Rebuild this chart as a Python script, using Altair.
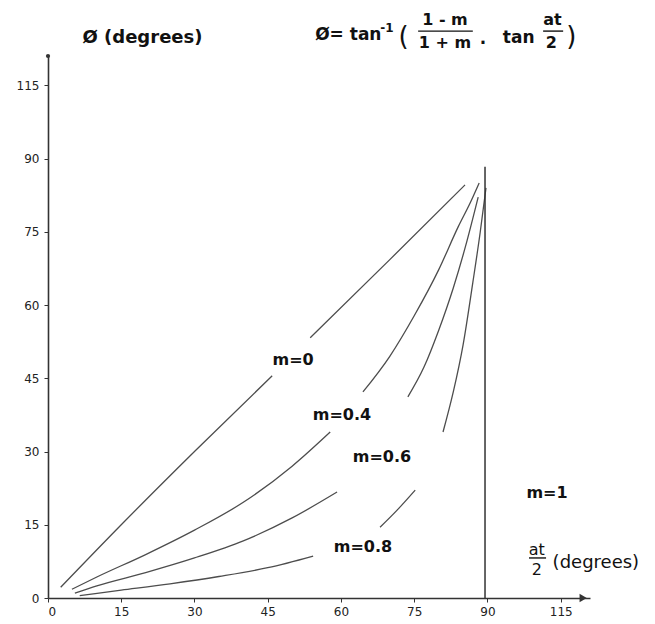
import altair as alt
import pandas as pd

# ---------------- data ----------------
# axis ticks (the last tick is printed as "115")
tick_values = [0, 15, 30, 45, 60, 75, 90, 105]
axis_max = [111]

# curves: phi (degrees) against at/2 (degrees); gaps kept where the drawing has them
m0_a_x = [2.6, 15, 30, 45.9]
m0_a_y = [2.2, 15.0, 30.0, 45.5]
m0_b_x = [53.7, 70, 85.4]
m0_b_y = [53.3, 69.3, 84.6]

m04_a_x = [4.9, 10, 20, 30, 40, 50, 57.8]
m04_a_y = [1.8, 4.3, 8.9, 13.9, 19.6, 27.0, 34.0]
m04_b_x = [64.5, 70, 75, 80, 84, 86.5, 88.3]
m04_b_y = [42.2, 49.5, 57.8, 67.2, 76.0, 81.0, 85.0]

m06_a_x = [5.5, 10, 20, 30, 40, 50, 59.2]
m06_a_y = [1.0, 2.5, 5.2, 8.2, 11.7, 16.4, 21.7]
m06_b_x = [73.7, 77, 80, 83, 85.5, 88.1]
m06_b_y = [41.2, 47.3, 54.8, 63.5, 72.0, 82.1]

m08_a_x = [6.5, 15, 25, 35, 45, 54.3]
m08_a_y = [0.5, 1.6, 2.9, 4.4, 6.2, 8.6]
m08_b_x = [68, 71.5, 75.2]
m08_b_y = [14.5, 18.0, 22.1]
m08_c_x = [80.9, 83, 85, 87, 88.5, 89.7]
m08_c_y = [34.0, 42.2, 51.8, 64.6, 74.8, 84.0]

# m = 1 : vertical line at at/2 = 90
m1_x = [89.5]
m1_y_top = [88.3]

# bold annotations
bold_text = ["Ø (degrees)", "Ø= tan", "-1", "1 - m", "1 + m", ".", "tan", "at", "2",
             "m=0", "m=0.4", "m=0.6", "m=0.8", "m=1"]
bold_x = [19.35, 61.5, 69.4, 81.3, 81.3, 89.1, 96.4, 103.3, 103.1,
          50.2, 60.2, 68.4, 64.5, 102.2]
bold_y = [114.7, 115.3, 116.7, 118.4, 113.7, 114.4, 114.6, 118.4, 113.7,
          48.7, 37.5, 28.9, 10.4, 21.5]
bold_size = [18, 17, 12, 16, 16, 17, 17, 16, 16, 16, 16, 16, 16, 16]

# regular annotations
reg_text = ["(", ")", "at", "2", "(degrees)"]
reg_x = [72.8, 107.2, 100.1, 100.1, 112.2]
reg_y = [114.9, 114.9, 9.8, 5.7, 7.2]
reg_size = [26, 26, 16, 16, 18]

# fraction bars
bar_x1 = [75.8, 101.4, 98.5]
bar_x2 = [87.0, 105.5, 102.0]
bar_y = [116.1, 116.1, 8.2]

# ---------------- build tables ----------------
segments = [
    ("m0a", m0_a_x, m0_a_y), ("m0b", m0_b_x, m0_b_y),
    ("m04a", m04_a_x, m04_a_y), ("m04b", m04_b_x, m04_b_y),
    ("m06a", m06_a_x, m06_a_y), ("m06b", m06_b_x, m06_b_y),
    ("m08a", m08_a_x, m08_a_y), ("m08b", m08_b_x, m08_b_y), ("m08c", m08_c_x, m08_c_y),
]
rows = []
for seg, xs_, ys_ in segments:
    for i, (xv, yv) in enumerate(zip(xs_, ys_)):
        rows.append({"x": xv, "y": yv, "seg": seg, "o": i})
curves = pd.DataFrame(rows)

m1 = pd.DataFrame({"x": m1_x, "y": [0], "y2": m1_y_top})
bold_df = pd.DataFrame({"x": bold_x, "y": bold_y, "t": bold_text, "fs": bold_size})
reg_df = pd.DataFrame({"x": reg_x, "y": reg_y, "t": reg_text, "fs": reg_size})
bars = pd.DataFrame({"x": bar_x1, "x2": bar_x2, "y": bar_y})
top_dot = pd.DataFrame({"x": [0], "y": axis_max})
arrow = pd.DataFrame({"x": [axis_max[0] - 1.4], "y": [0]})

label_expr = "datum.value == 105 ? '115' : datum.label"
xs = alt.Scale(domain=[0, axis_max[0]], nice=False, zero=False)
ys = alt.Scale(domain=[0, axis_max[0]], nice=False, zero=False)

axis_common = dict(
    values=tick_values, labelExpr=label_expr, title=None, grid=False,
    domainColor="#333333", domainWidth=1.6, tickColor="#333333", tickSize=4,
    labelFont="DejaVu Sans", labelFontSize=12, labelColor="#222222",
)
x_axis = alt.Axis(labelPadding=4, **axis_common)
y_axis = alt.Axis(labelPadding=5, **axis_common)

line_color = "#4d4d4d"

lines = alt.Chart(curves).mark_line(
    color=line_color, strokeWidth=1.3, interpolate="monotone"
).encode(
    x=alt.X("x:Q", scale=xs, axis=x_axis),
    y=alt.Y("y:Q", scale=ys, axis=y_axis),
    detail="seg:N",
    order="o:Q",
)

m1_rule = alt.Chart(m1).mark_rule(color="#333333", strokeWidth=1.5).encode(
    x=alt.X("x:Q", scale=xs), y=alt.Y("y:Q", scale=ys), y2="y2:Q"
)

bar_rules = alt.Chart(bars).mark_rule(color="#111111", strokeWidth=1.4).encode(
    x=alt.X("x:Q", scale=xs), x2="x2:Q", y=alt.Y("y:Q", scale=ys)
)

bold_layer = alt.Chart(bold_df).mark_text(
    font="DejaVu Sans", fontWeight="bold", color="#111111", align="center", baseline="middle"
).encode(
    x=alt.X("x:Q", scale=xs), y=alt.Y("y:Q", scale=ys), text="t:N",
    size=alt.Size("fs:Q", scale=None, legend=None),
)

reg_layer = alt.Chart(reg_df).mark_text(
    font="DejaVu Sans", color="#111111", align="center", baseline="middle"
).encode(
    x=alt.X("x:Q", scale=xs), y=alt.Y("y:Q", scale=ys), text="t:N",
    size=alt.Size("fs:Q", scale=None, legend=None),
)

dot = alt.Chart(top_dot).mark_point(filled=True, color="#333333", size=18, opacity=1).encode(
    x=alt.X("x:Q", scale=xs), y=alt.Y("y:Q", scale=ys)
)

arrow_head = alt.Chart(arrow).mark_point(
    shape="triangle-right", filled=True, color="#333333", size=70, opacity=1
).encode(x=alt.X("x:Q", scale=xs), y=alt.Y("y:Q", scale=ys))

chart = alt.layer(lines, m1_rule, bar_rules, bold_layer, reg_layer, dot, arrow_head).properties(
    width=542, height=542,
    padding={"left": 40, "top": 48, "right": 57, "bottom": 24},
    autosize=alt.AutoSizeParams(type="none"),
    background="white",
).configure_view(strokeWidth=0, stroke="transparent")

chart.save("out.html", embed_options={"renderer": "svg", "actions": False})
